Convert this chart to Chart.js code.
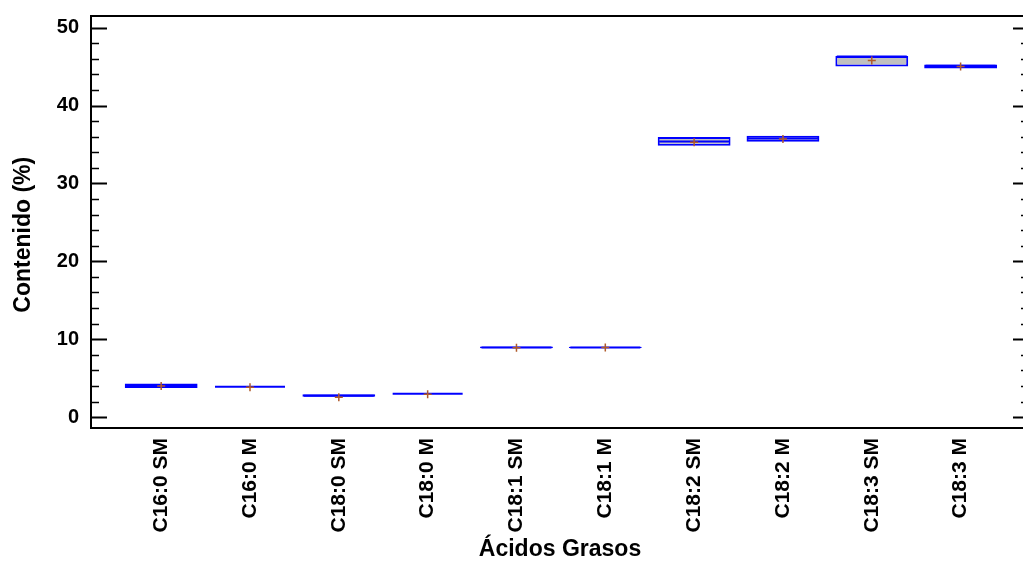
<!DOCTYPE html>
<html>
<head>
<meta charset="utf-8">
<script src="https://cdn.jsdelivr.net/npm/chart.js@4.4.1/dist/chart.umd.min.js"></script>
<style>
  html, body { margin: 0; padding: 0; background: #fff; overflow: hidden; }
  #wrap { width: 1035px; height: 563px; }
</style>
</head>
<body>
<div id="wrap"><canvas id="boxChart" width="1035" height="563"></canvas></div>
<script>
// ---- Data ----
const categories = [
  "C16:0 SM", "C16:0 M", "C18:0 SM", "C18:0 M", "C18:1 SM",
  "C18:1 M", "C18:2 SM", "C18:2 M", "C18:3 SM", "C18:3 M"
];
const lowerQuartile = [3.74, 3.90, 2.62, 3.00, 8.84, 8.87, 34.83, 35.35, 45.03, 44.77];
const upperQuartile = [4.30, 3.90, 2.94, 3.00, 9.06, 9.03, 35.95, 36.12, 46.36, 45.28];
const medians       = [4.03, 3.90, 2.75, 3.00, 8.95, 8.95, 35.40, 35.77, 46.30, 45.10];
const means         = [3.98, 3.82, 2.55, 2.92, 8.90, 8.93, 35.30, 35.70, 45.80, 45.03];
const yTicks = [0, 10, 20, 30, 40, 50];

const FONT = "'Liberation Sans', Arial, Helvetica, sans-serif";
const BLUE = "#0000ff";

// frame + inner tick marks (major every 10, minor every 2) on both sides
const frameTicks = {
  id: "frameTicks",
  afterDatasetsDraw(chart) {
    const { ctx, chartArea: a } = chart;
    const y = chart.scales.y;
    ctx.save();
    ctx.strokeStyle = "#000";
    ctx.lineWidth = 2;
    ctx.beginPath();
    ctx.moveTo(a.left, a.top);
    ctx.lineTo(a.right, a.top);
    ctx.lineTo(a.right, a.bottom);
    ctx.lineTo(a.left, a.bottom);
    ctx.closePath();
    ctx.stroke();

    for (let v = 0; v <= 50; v += 2) {
      const py = Math.round(y.getPixelForValue(v)) + 0.5;
      const len = v % 10 === 0 ? 16 : 8;
      ctx.lineWidth = v % 10 === 0 ? 2 : 1.5;
      ctx.beginPath();
      ctx.moveTo(a.left, py);
      ctx.lineTo(a.left + len, py);
      ctx.moveTo(a.right, py);
      ctx.lineTo(a.right - len, py);
      ctx.stroke();
    }
    ctx.restore();
  }
};

// no extra label padding, so the plot box lands where the reference has it
const noPad = (s) => {
  s.paddingLeft = 0;
  s.paddingRight = 0;
  s.paddingTop = 0;
  s.paddingBottom = 0;
};

const boxData = categories.map((c, i) => ({ x: i, y: [lowerQuartile[i], upperQuartile[i]] }));
const medianData = categories.map((c, i) => ({ x: i, y: medians[i] }));
const meanData = categories.map((c, i) => ({ x: i, y: means[i] }));

new Chart(document.getElementById("boxChart"), {
  type: "bar",
  data: {
    datasets: [
      {
        type: "line",
        label: "Media",
        data: meanData,
        showLine: false,
        pointStyle: "cross",
        pointRadius: 4,
        pointBorderWidth: 1.5,
        pointBorderColor: "#b05a2a",
        pointBackgroundColor: "#b05a2a",
        order: 0
      },
      {
        type: "line",
        label: "Mediana",
        data: medianData,
        showLine: false,
        pointStyle: "line",
        pointRadius: 35,
        pointBorderWidth: 2,
        pointBorderColor: BLUE,
        order: 1
      },
      {
        label: "Caja",
        data: boxData,
        backgroundColor: "#c0c0c0",
        borderColor: BLUE,
        borderWidth: 2,
        borderSkipped: false,
        barPercentage: 0.82,
        categoryPercentage: 1,
        order: 2
      }
    ]
  },
  options: {
    responsive: false,
    animation: false,
    layout: { autoPadding: false, padding: { top: 16, right: 6, left: 0, bottom: 0 } },
    plugins: {
      legend: { display: false },
      tooltip: { enabled: false }
    },
    scales: {
      x: {
        type: "linear",
        min: -0.79,
        max: 9.77,
        offset: false,
        grid: { display: false, drawTicks: false },
        border: { display: false },
        afterBuildTicks: (s) => { s.ticks = categories.map((c, i) => ({ value: i })); },
        afterFit: (s) => { s.height = 135; noPad(s); },
        ticks: {
          autoSkip: false,
          minRotation: 90,
          maxRotation: 90,
          padding: 10,
          color: "#000",
          font: { family: FONT, size: 21, weight: "bold" },
          callback: (v) => categories[v] || ""
        },
        title: {
          display: true,
          text: "Ácidos Grasos",
          color: "#000",
          font: { family: FONT, size: 23, weight: "bold" },
          padding: { top: 0, bottom: 0 }
        }
      },
      y: {
        min: -1.4,
        max: 51.5,
        grid: { display: false, drawTicks: false },
        border: { display: false },
        afterBuildTicks: (s) => { s.ticks = yTicks.map(v => ({ value: v })); },
        afterFit: (s) => { s.width = 91; noPad(s); },
        ticks: {
          padding: 12,
          color: "#000",
          font: { family: FONT, size: 20, weight: "bold" }
        },
        title: {
          display: true,
          // trailing spaces nudge the centred title a little lower, as in the reference
          text: "Contenido (%)    ",
          color: "#000",
          font: { family: FONT, size: 23, weight: "bold" },
          padding: { top: 10, bottom: 0 }
        }
      }
    }
  },
  plugins: [frameTicks]
});
</script>
</body>
</html>
